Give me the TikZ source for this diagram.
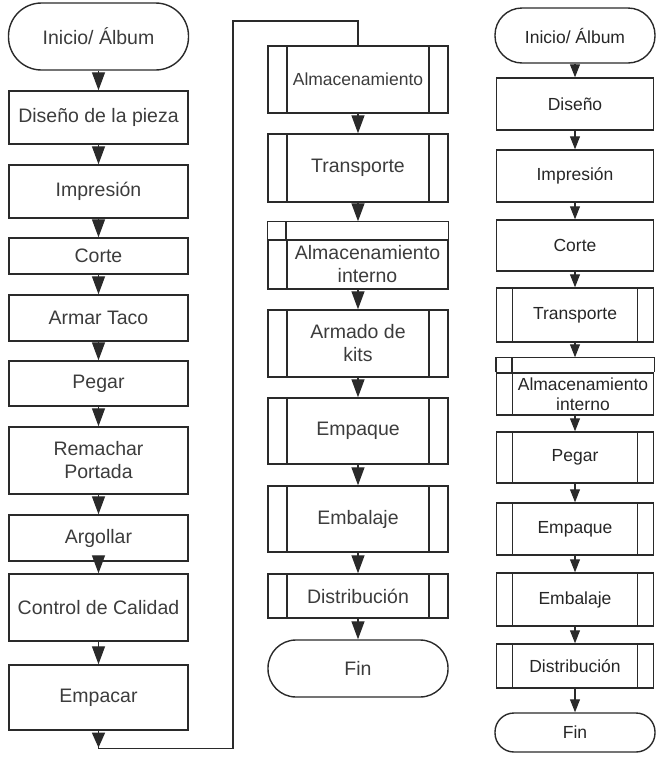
\documentclass[tikz,border=0pt]{standalone}
\usepackage{fontspec}
\setmainfont{Liberation Sans}
\usetikzlibrary{arrows.meta,decorations.markings}
\definecolor{lc}{HTML}{2A2A2A}
\definecolor{tc}{HTML}{3C3C3C}
\definecolor{tcr}{HTML}{262626}
\begin{document}
\begin{tikzpicture}[x=1pt,y=-1pt,
  sz/.style 2 args={minimum width=#1pt, minimum height=#2pt},
  procbox/.style={draw=lc, line width=1.4pt, rectangle, inner sep=1pt, align=center, text=tc,
    font=\fontsize{19.5}{23}\selectfont},
  rightcol/.style={text=tcr, font=\fontsize{17.5}{20}\selectfont},
  termbox/.style={procbox, rounded corners=#1},
  predefbox/.style={procbox, path picture={
    \draw[lc, line width=1.8pt]
      ([xshift=#1]path picture bounding box.north west) -- ([xshift=#1]path picture bounding box.south west)
      ([xshift=-#1]path picture bounding box.north east) -- ([xshift=-#1]path picture bounding box.south east);}},
  storebox/.style={procbox, path picture={
    \draw[lc, line width=1.8pt]
      ([xshift=#1]path picture bounding box.north west) -- ([xshift=#1]path picture bounding box.south west);}},
  flowarrow/.style={draw=lc, line width=1.3pt, -{Triangle[width=13pt,length=18pt]}},
  flowarrowr/.style={draw=lc, line width=1.2pt, -{Triangle[width=10pt,length=13pt]}},
  bandline/.style={draw=lc, line width=1.4pt}
]
\useasboundingbox (0,0) rectangle (662,761);

% ---------- left column ----------
\node[termbox=33pt, sz={180}{67}] (L0) at (98.5,36.5) {Inicio/ Álbum};
\node[procbox, sz={179}{53}] (L1) at (98.5,117.5) {Diseño de la pieza};
\node[procbox, sz={179}{53}] (L2) at (98.5,191.5) {Impresión};
\node[procbox, sz={179}{36}] (L3) at (98.5,256) {Corte};
\node[procbox, sz={179}{46}] (L4) at (98.5,318) {Armar Taco};
\node[procbox, sz={179}{45}] (L5) at (98.5,383.5) {Pegar};
\node[procbox, sz={179}{67}] (L6) at (98.5,460.5) {Remachar\\Portada};
\node[procbox, sz={179}{46}] (L7) at (98.5,538) {Argollar};
\node[procbox, sz={179}{67}] (L8) at (98.5,607.5) {Control de Calidad};
\node[procbox, sz={179}{65}] (L9) at (98.5,697.5) {Empacar};

\foreach \a/\b in {L0/L1,L1/L2,L2/L3,L3/L4,L4/L5,L5/L6,L6/L7,L7/L8,L8/L9}
  \draw[flowarrow] (\a.south) -- (\b.north);

% ---------- middle column ----------
\node[predefbox=19pt, sz={180}{67}, font=\fontsize{17.5}{21}\selectfont] (M1) at (358,79.5) {Almacenamiento};
\node[predefbox=19pt, sz={180}{68}] (M2) at (358,168) {Transporte};
\node[storebox=19pt, sz={180}{49}] (M3) at (358,264.5) {\hspace*{19pt}Almacenamiento\\\hspace*{19pt}interno};
\draw[bandline] (M3.north west) -- ++(0,-18) -| (M3.north east);
\draw[bandline, line width=1.8pt] ([xshift=19pt]M3.north west) -- ++(0,-18);
\coordinate (M3t) at ([yshift=18pt]M3.north);
\node[predefbox=19pt, sz={180}{67}] (M4) at (358,343.5) {Armado de\\kits};
\node[predefbox=19pt, sz={180}{66}] (M5) at (358,431) {Empaque};
\node[predefbox=19pt, sz={180}{66}] (M6) at (358,519) {Embalaje};
\node[predefbox=19pt, sz={180}{44}] (M7) at (358,596) {Distribución};
\node[termbox=28pt, sz={180}{57}] (M8) at (358,668.5) {Fin};

\draw[flowarrow] (M1.south) -- (M2.north);
\draw[flowarrow] (M2.south) -- (M3t);
\foreach \a/\b in {M3/M4,M4/M5,M5/M6,M6/M7,M7/M8}
  \draw[flowarrow] (\a.south) -- (\b.north);

% connector from left column to middle column
\draw[draw=lc, line width=1.3pt, postaction={decorate},
  decoration={markings, mark=at position 17pt with {\arrow{Triangle[width=13pt,length=15pt]}}}]
  (L9.south) -- ++(0,18) -| (233,21) -| (M1.north);

% ---------- right column ----------
\node[termbox=27pt, rightcol, sz={160}{55}] (R0) at (575,35.5) {Inicio/ Álbum};
\node[procbox, rightcol, sz={157}{52}] (R1) at (575,104) {Diseño};
\node[procbox, rightcol, sz={157}{52}] (R2) at (575,176) {Impresión};
\node[procbox, rightcol, sz={157}{51}] (R3) at (575,245.5) {Corte};
\node[predefbox=16pt, rightcol, sz={157}{54}] (R4) at (575,315) {Transporte};
\node[storebox=16pt, rightcol, sz={157}{42}] (R5) at (575,394) {\hspace*{16pt}Almacenamiento\\\hspace*{16pt}interno};
\draw[bandline] (R5.north west) -- ++(0,-15) -| (R5.north east);
\draw[bandline, line width=1.8pt] ([xshift=16pt]R5.north west) -- ++(0,-15);
\coordinate (R5t) at ([yshift=15pt]R5.north);
\node[predefbox=16pt, rightcol, sz={157}{51}] (R6) at (575,457.5) {Pegar};
\node[predefbox=16pt, rightcol, sz={157}{52}] (R7) at (575,529) {Empaque};
\node[predefbox=16pt, rightcol, sz={157}{53}] (R8) at (575,599.5) {Embalaje};
\node[predefbox=16pt, rightcol, sz={157}{44}] (R9) at (575,666) {Distribución};
\node[termbox=19pt, rightcol, sz={160}{39}] (R10) at (575,732.5) {Fin};

\foreach \a/\b in {R0/R1,R1/R2,R2/R3,R3/R4,R5/R6,R6/R7,R7/R8,R8/R9,R9/R10}
  \draw[flowarrowr] (\a.south) -- (\b.north);
\draw[flowarrowr] (R4.south) -- (R5t);
\end{tikzpicture}
\end{document}
